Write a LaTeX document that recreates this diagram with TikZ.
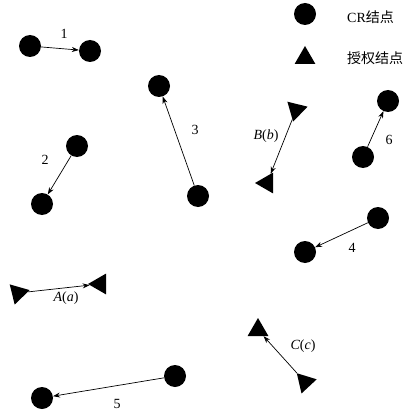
\documentclass[tikz,border=0pt]{standalone}
\usepackage{fontspec}
\setmainfont{Liberation Serif}
\newfontfamily\cjk{Noto Sans CJK SC}
\usetikzlibrary{shapes.geometric,arrows.meta}

\begin{document}
\begin{tikzpicture}[x=1pt,y=-1pt,
  cr/.style={circle,fill=black,minimum size=22pt,inner sep=0pt},
  auth/.style={regular polygon,regular polygon sides=3,fill=black,
    minimum size=24pt,inner sep=0pt,shape border rotate=#1},
  auth/.default=0,
  link/.style={-{Stealth[length=7pt,width=5pt]},line width=0.7pt},
  lbl/.style={font=\fontsize{14}{14}\selectfont,inner sep=1pt}]
\useasboundingbox (0,0) rectangle (412,417);

% legend
\node[cr] (legc) at (305,14) {};
\node[lbl,anchor=west] (legct) at (346,17) {CR{\cjk 结点}};
\node[auth] (legt) at (305,58) {};
\node[lbl,anchor=west] (legtt) at (346,58) {\cjk 授权结点};

% CR node pairs
\node[cr] (c1a) at (30,46) {};
\node[cr] (c1b) at (90,51) {};
\draw[link] (c1a) -- (c1b);
\node[lbl] (l1) at (64,34) {1};

\node[cr] (c2a) at (77,146) {};
\node[cr] (c2b) at (42,204) {};
\draw[link] (c2a) -- (c2b);
\node[lbl] (l2) at (45,160) {2};

\node[cr] (c3a) at (198,196) {};
\node[cr] (c3b) at (159,86) {};
\draw[link] (c3a) -- (c3b);
\node[lbl] (l3) at (195,130) {3};

\node[cr] (c4a) at (378,218) {};
\node[cr] (c4b) at (305,252) {};
\draw[link] (c4a) -- (c4b);
\node[lbl] (l4) at (352,248) {4};

\node[cr] (c5a) at (175,376) {};
\node[cr] (c5b) at (42,398) {};
\draw[link] (c5a) -- (c5b);
\node[lbl] (l5) at (117,404) {5};

\node[cr] (c6a) at (363,157) {};
\node[cr] (c6b) at (388,101) {};
\draw[link] (c6a) -- (c6b);
\node[lbl] (l6) at (389,140) {6};

% authorised node pairs
\node[auth=46] (ba) at (296,110) {};
\node[auth=90] (bb) at (267,183) {};
\draw[link] (ba) -- (bb);
\node[lbl] (lb) at (266,136) {\textit{B}(\textit{b})};

\node[auth=44] (aa) at (18,293) {};
\node[auth=90] (ab) at (100,284) {};
\draw[link] (aa) -- (ab);
\node[lbl] (la) at (66,298) {\textit{A}(\textit{a})};

\node[auth=43] (ca) at (305,382) {};
\node[auth=0] (cb) at (258,330) {};
\draw[link] (ca) -- (cb);
\node[lbl] (lc) at (303,346) {\textit{C}(\textit{c})};
\end{tikzpicture}
\end{document}
